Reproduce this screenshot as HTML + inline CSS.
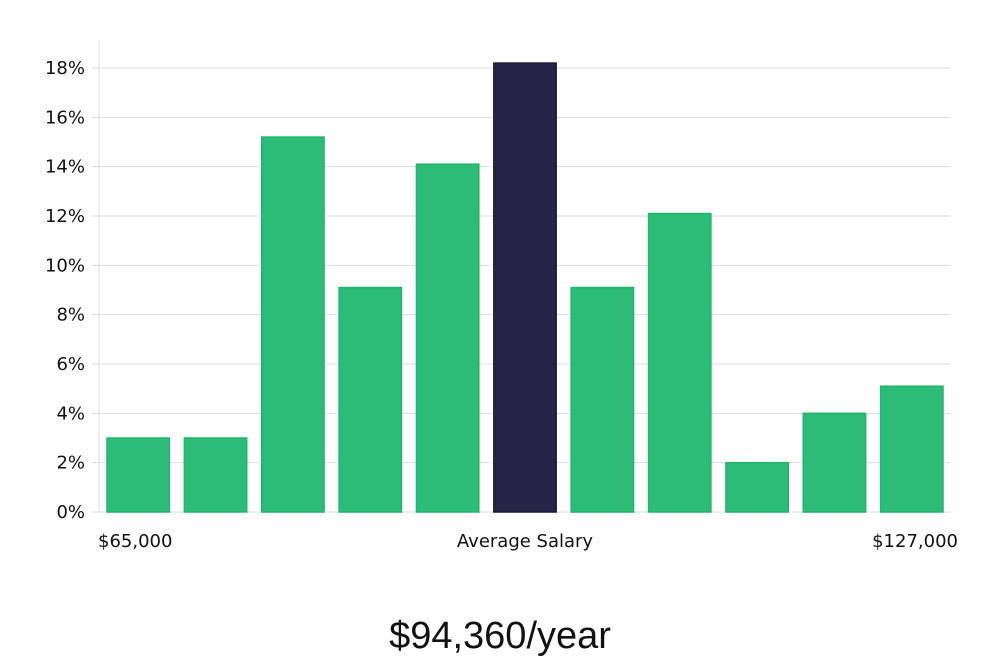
<!DOCTYPE html>
<html><head><meta charset="utf-8"><style>
html,body{margin:0;padding:0;background:#fff;}
svg{display:block;font-family:"DejaVu Sans","Liberation Sans",sans-serif;}
</style></head><body>
<svg id="chart" width="1000" height="660">
<g id="grid"></g><g id="bars"></g><g id="yticks"></g>
<line x1="99" y1="40" x2="99" y2="512" stroke="#ddd" stroke-width="1"/>
<text x="98" y="547" font-size="18" fill="#111">$65,000</text>
<text x="525" y="547" font-size="18" fill="#111" text-anchor="middle">Average Salary</text>
<text x="958" y="547" font-size="18" fill="#111" text-anchor="end">$127,000</text>
<text x="500" y="648" font-size="38" fill="#111" font-weight="300" text-anchor="middle" font-family="Liberation Sans, sans-serif">$94,360/year</text>
</svg>
<script>
const values = [3, 3, 15.2, 9.1, 14.1, 18.2, 9.1, 12.1, 2, 4, 5.1];
const highlight = [false, false, false, false, false, true, false, false, false, false, false];
const yTicks = [0, 2, 4, 6, 8, 10, 12, 14, 16, 18];
const NS = "http://www.w3.org/2000/svg";
const x0 = 99, x1 = 950, y0 = 512, yTop = 68;
const y = v => y0 - v / 18 * (y0 - yTop);
const slot = (x1 - x0) / values.length;
const grid = document.getElementById('grid'), bars = document.getElementById('bars'), yt = document.getElementById('yticks');
yTicks.forEach(t => {
  const l = document.createElementNS(NS, 'line');
  
  
  l.setAttribute('x1', 92); l.setAttribute('x2', x1);
  l.setAttribute('y1', y(t)); l.setAttribute('y2', y(t));
  l.setAttribute('stroke', '#ddd');
  grid.appendChild(l);
  const tx = document.createElementNS(NS, 'text');
  
  
  tx.setAttribute('x', 85); tx.setAttribute('y', y(t) + 6);
  tx.setAttribute('text-anchor', 'end'); tx.setAttribute('font-size', '18'); tx.setAttribute('fill', '#111');
  tx.textContent = t + '%';
  yt.appendChild(tx);
});
values.forEach((v, i) => {
  const r = document.createElementNS(NS, 'rect');
  
  
  const bx = x0 + i * slot + 8;
  r.setAttribute('x', bx); r.setAttribute('width', slot - 15);
  r.setAttribute('y', y(v)); r.setAttribute('height', y0 - y(v));
  r.setAttribute('fill', highlight[i] ? '#282446' : '#2bbd77');
  r.setAttribute('stroke', highlight[i] ? '#1c1838' : '#22b46c');
  r.setAttribute('stroke-width', '1.5');
  bars.appendChild(r);
});
</script>
</body></html>
